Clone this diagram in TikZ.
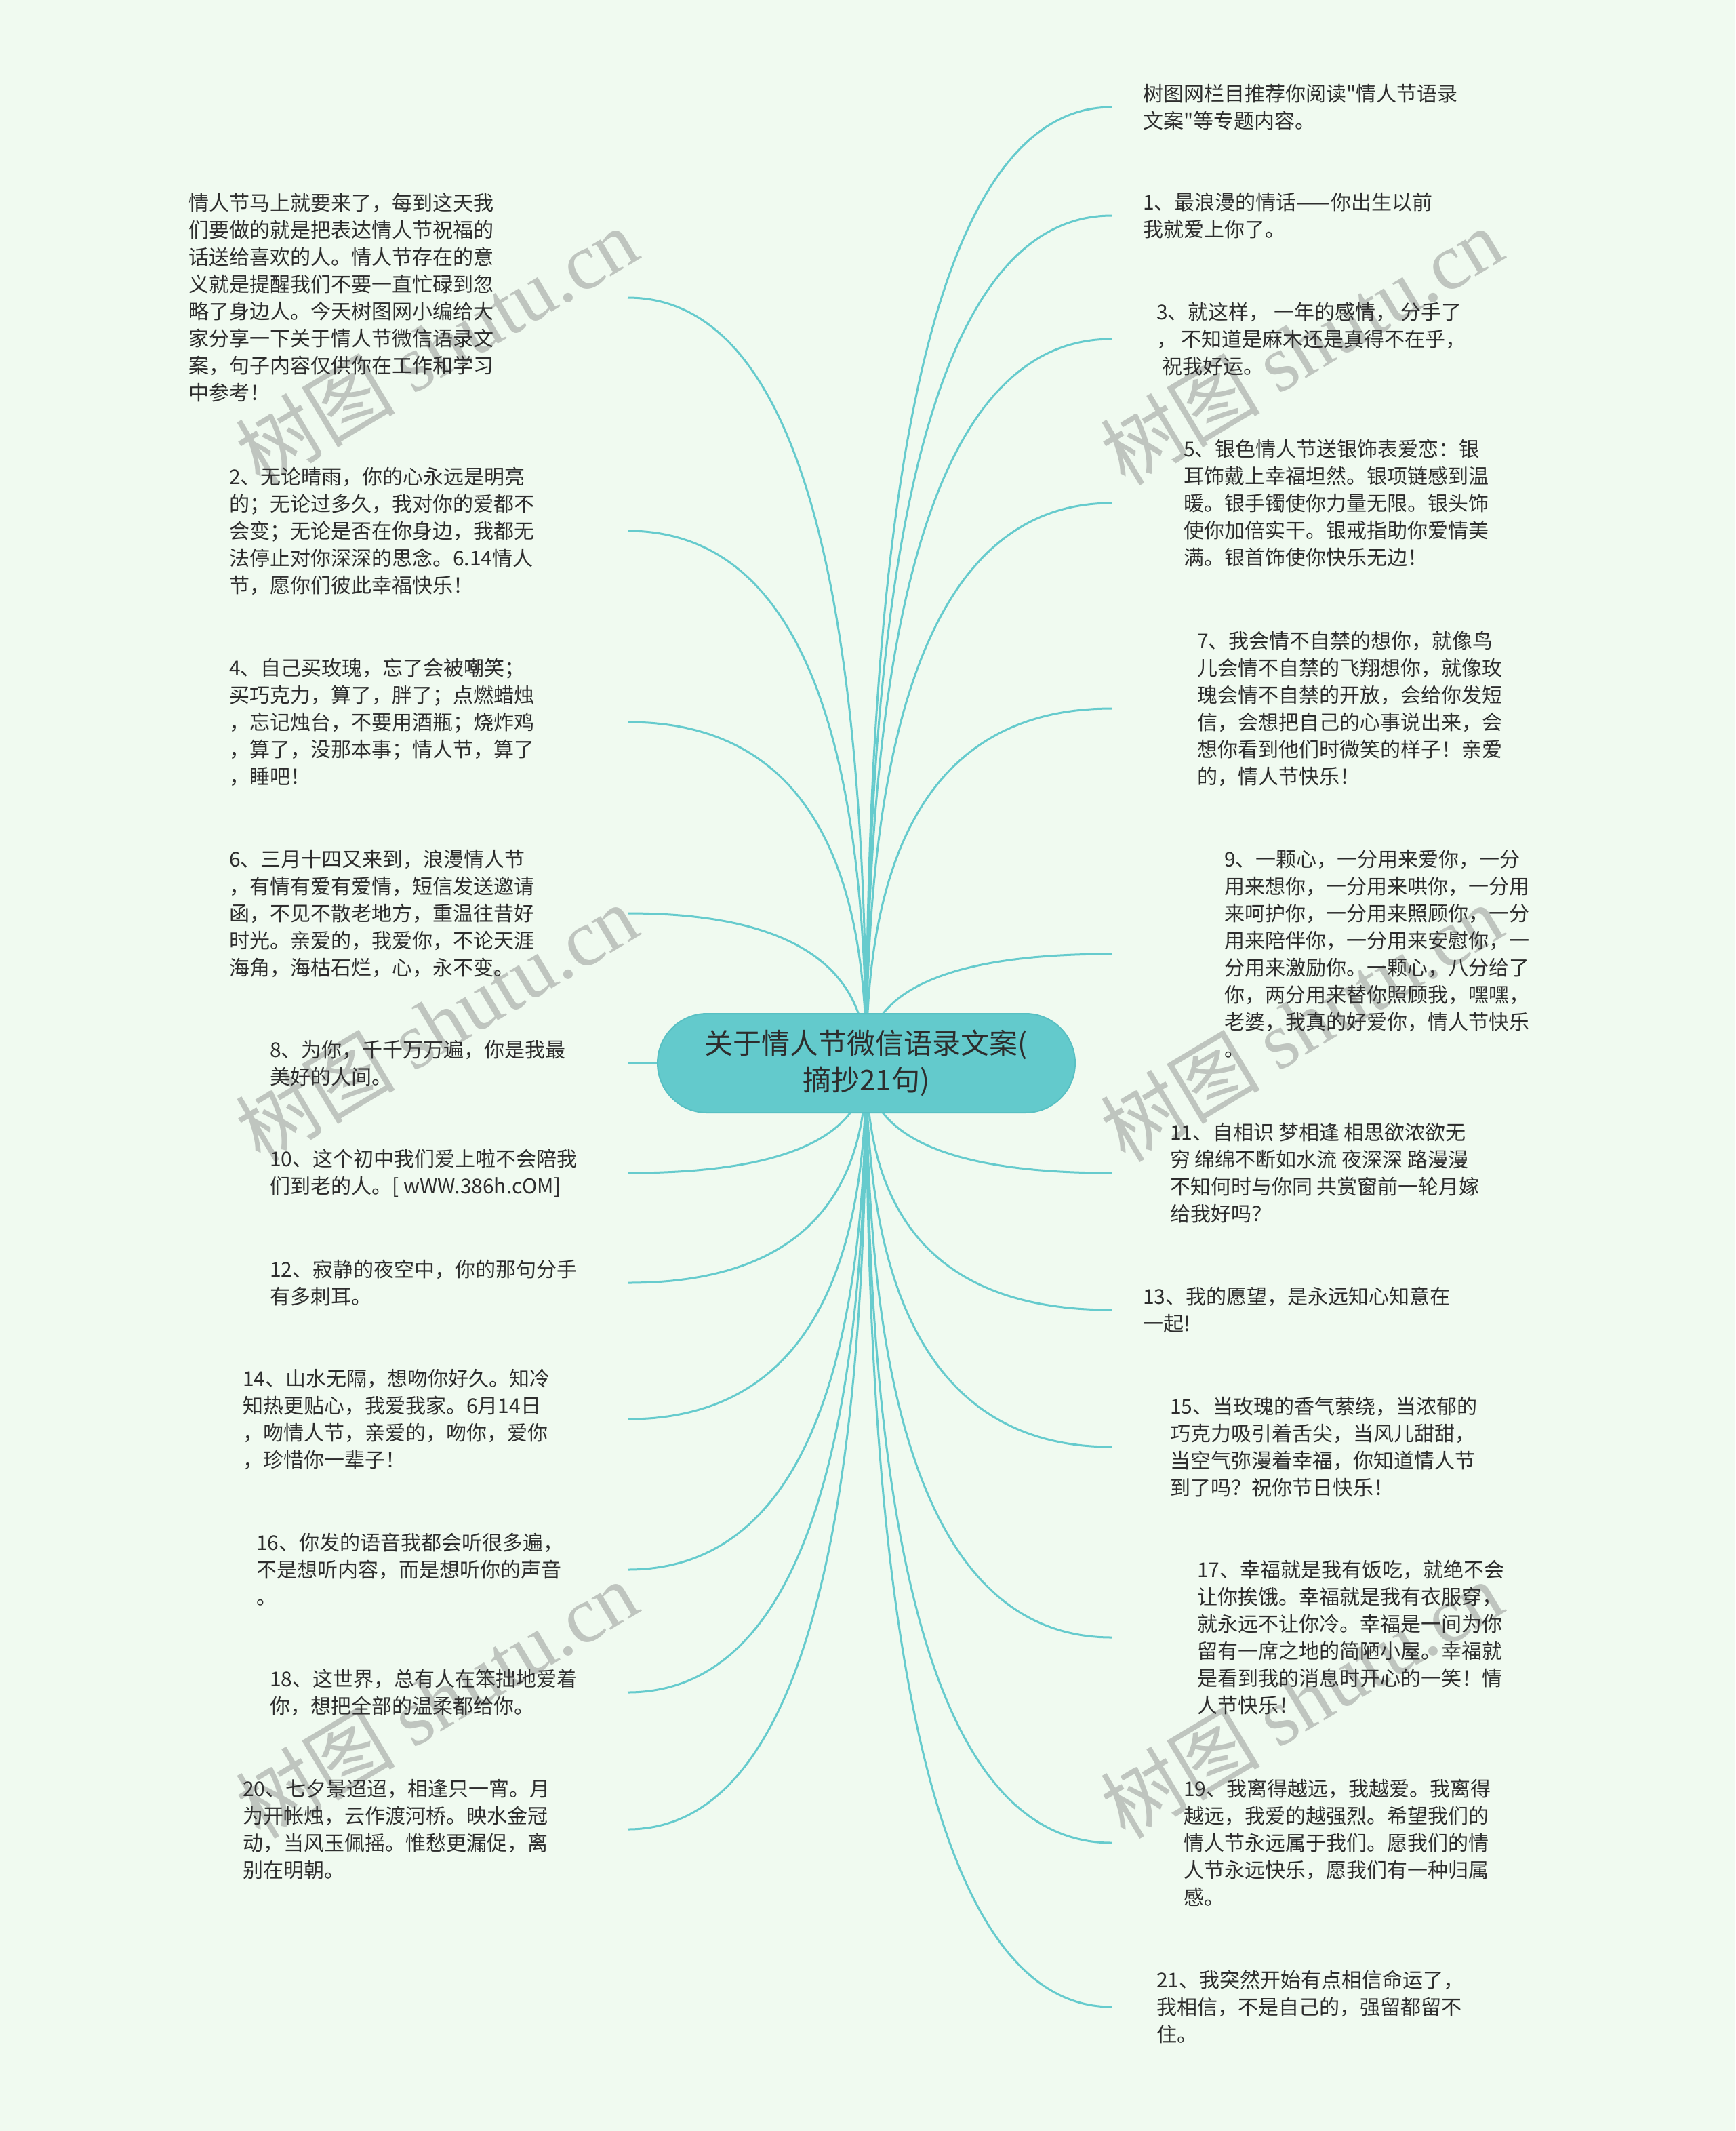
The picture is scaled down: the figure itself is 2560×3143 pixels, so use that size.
\documentclass[tikz,border=0pt]{standalone}
\usepackage{fontspec}
\setmainfont{Noto Sans CJK SC}[Ligatures=TeXOff]
\newfontfamily\cjk{Noto Sans CJK SC}[Ligatures=TeXOff]
\newfontfamily\wmlatin{Liberation Serif}
\usetikzlibrary{calc}
\pgfdeclarelayer{bg}
\pgfdeclarelayer{wm}
\pgfsetlayers{bg,wm,main}
\definecolor{bgc}{RGB}{240,250,240}
\definecolor{rootfill}{RGB}{99,202,204}
\definecolor{rootline}{RGB}{88,192,195}
\definecolor{linec}{RGB}{102,203,205}
\definecolor{txt}{RGB}{45,45,45}
\definecolor{wmc}{RGB}{191,197,191}
\begin{document}
\begin{tikzpicture}[x=1pt,y=-1pt,
  leaf/.style={anchor=west, align=left, inner sep=0pt, yshift=-2pt, font=\fontsize{30}{40}\selectfont, text=txt},
  rootbox/.style={rectangle, rounded corners=73pt, minimum width=616pt, minimum height=146pt, fill=rootfill, draw=rootline, line width=2pt, align=center, inner sep=0pt, font=\fontsize{42}{54}\selectfont, text=txt},
  conn/.style={draw=linec, line width=3pt},
  branch/.style={to path={.. controls ($(\tikztostart)!2/3!(\tikztostart |- \tikztotarget)$) and ($(\tikztotarget)!2/3!(\tikztostart |- \tikztotarget)$) .. (\tikztotarget)}},
  wmark/.style={text=wmc, rotate=31, inner sep=0pt, font=\fontsize{118}{130}\selectfont}
]
\useasboundingbox (0,0) rectangle (2560,3143);
\coordinate (rx) at (1640,0);
\coordinate (lx) at (926,0);

% root
\node[rootbox] (root) at (1278,1568) {关于情人节微信语录文案(\\摘抄21句)};

% right leaves
\node[leaf] (r0) at (1686,156) {树图网栏目推荐你阅读"情人节语录\\文案"等专题内容。};
\node[leaf] (r1) at (1686,316) {1、最浪漫的情话——你出生以前\\我就爱上你了。};
\node[leaf] (r2) at (1706,498) {3、就这样， 一年的感情， 分手了\\， 不知道是麻木还是真得不在乎，\\\hspace*{8pt}祝我好运。};
\node[leaf] (r3) at (1746,740) {5、银色情人节送银饰表爱恋：银\\耳饰戴上幸福坦然。银项链感到温\\暖。银手镯使你力量无限。银头饰\\使你加倍实干。银戒指助你爱情美\\满。银首饰使你快乐无边！};
\node[leaf] (r4) at (1766,1043) {7、我会情不自禁的想你，就像鸟\\儿会情不自禁的飞翔想你，就像玫\\瑰会情不自禁的开放，会给你发短\\信，会想把自己的心事说出来，会\\想你看到他们时微笑的样子！亲爱\\的，情人节快乐！};
\node[leaf] (r5) at (1806,1405) {9、一颗心，一分用来爱你，一分\\用来想你，一分用来哄你，一分用\\来呵护你，一分用来照顾你，一分\\用来陪伴你，一分用来安慰你，一\\分用来激励你。一颗心，八分给了\\你，两分用来替你照顾我，嘿嘿，\\老婆，我真的好爱你，情人节快乐\\。};
\node[leaf] (r6) at (1726,1728) {11、自相识 梦相逢 相思欲浓欲无\\穷 绵绵不断如水流 夜深深 路漫漫\\不知何时与你同 共赏窗前一轮月嫁\\给我好吗？};
\node[leaf] (r7) at (1686,1930) {13、我的愿望，是永远知心知意在\\一起!};
\node[leaf] (r8) at (1726,2132) {15、当玫瑰的香气萦绕，当浓郁的\\巧克力吸引着舌尖，当风儿甜甜，\\当空气弥漫着幸福，你知道情人节\\到了吗？祝你节日快乐！};
\node[leaf] (r9) at (1766,2413) {17、幸福就是我有饭吃，就绝不会\\让你挨饿。幸福就是我有衣服穿，\\就永远不让你冷。幸福是一间为你\\留有一席之地的简陋小屋。幸福就\\是看到我的消息时开心的一笑！情\\人节快乐！};
\node[leaf] (r10) at (1746,2716) {19、我离得越远，我越爱。我离得\\越远，我爱的越强烈。希望我们的\\情人节永远属于我们。愿我们的情\\人节永远快乐，愿我们有一种归属\\感。};
\node[leaf] (r11) at (1706,2958) {21、我突然开始有点相信命运了，\\我相信，不是自己的，强留都留不\\住。};

% left leaves
\node[leaf] (l0) at (278,437) {情人节马上就要来了，每到这天我\\们要做的就是把表达情人节祝福的\\话送给喜欢的人。情人节存在的意\\义就是提醒我们不要一直忙碌到忽\\略了身边人。今天树图网小编给大\\家分享一下关于情人节微信语录文\\案，句子内容仅供你在工作和学习\\中参考！};
\node[leaf] (l1) at (338,781) {2、无论晴雨，你的心永远是明亮\\的；无论过多久，我对你的爱都不\\会变；无论是否在你身边，我都无\\法停止对你深深的思念。6.14情人\\节，愿你们彼此幸福快乐！};
\node[leaf] (l2) at (338,1063) {4、自己买玫瑰，忘了会被嘲笑；\\买巧克力，算了，胖了；点燃蜡烛\\，忘记烛台，不要用酒瓶；烧炸鸡\\，算了，没那本事；情人节，算了\\，睡吧！};
\node[leaf] (l3) at (338,1345) {6、三月十四又来到，浪漫情人节\\，有情有爱有爱情，短信发送邀请\\函，不见不散老地方，重温往昔好\\时光。亲爱的，我爱你，不论天涯\\海角，海枯石烂，心，永不变。};
\node[leaf] (l4) at (398,1566) {8、为你，千千万万遍，你是我最\\美好的人间。};
\node[leaf] (l5) at (398,1728) {10、这个初中我们爱上啦不会陪我\\们到老的人。[ wWW.386h.cOM]};
\node[leaf] (l6) at (398,1890) {12、寂静的夜空中，你的那句分手\\有多刺耳。};
\node[leaf] (l7) at (358,2091) {14、山水无隔，想吻你好久。知冷\\知热更贴心，我爱我家。6月14日\\，吻情人节，亲爱的，吻你，爱你\\，珍惜你一辈子！};
\node[leaf] (l8) at (378,2313) {16、你发的语音我都会听很多遍，\\不是想听内容，而是想听你的声音\\。};
\node[leaf] (l9) at (398,2494) {18、这世界，总有人在笨拙地爱着\\你，想把全部的温柔都给你。};
\node[leaf] (l10) at (358,2696) {20、七夕景迢迢，相逢只一宵。月\\为开帐烛，云作渡河桥。映水金冠\\动，当风玉佩摇。惟愁更漏促，离\\别在明朝。};

% connector end points
\foreach \n in {r0,r1,r2,r3,r4,r5,r6,r7,r8,r9,r10,r11}
  \coordinate (\n e) at (\n.west -| rx);
\foreach \n in {l0,l1,l2,l3,l4,l5,l6,l7,l8,l9,l10}
  \coordinate (\n e) at (\n.west -| lx);

\begin{pgfonlayer}{bg}
  \fill[bgc] (0,0) rectangle (2560,3143);
  \foreach \n in {r0,r1,r2,r3,r4,r5,r6,r7,r8,r9,r10,r11,l0,l1,l2,l3,l4,l5,l6,l7,l8,l9,l10}
    \draw[conn] (root.center) to[branch] (\n e);
\end{pgfonlayer}

\begin{pgfonlayer}{wm}
  \node[wmark] (w1) at (644,510) {\cjk 树图 \wmlatin shutu.cn};
  \node[wmark] (w2) at (1920,510) {\cjk 树图 \wmlatin shutu.cn};
  \node[wmark] (w3) at (644,1508) {\cjk 树图 \wmlatin shutu.cn};
  \node[wmark] (w4) at (1920,1508) {\cjk 树图 \wmlatin shutu.cn};
  \node[wmark] (w5) at (644,2506) {\cjk 树图 \wmlatin shutu.cn};
  \node[wmark] (w6) at (1920,2506) {\cjk 树图 \wmlatin shutu.cn};
\end{pgfonlayer}
\end{tikzpicture}
\end{document}
